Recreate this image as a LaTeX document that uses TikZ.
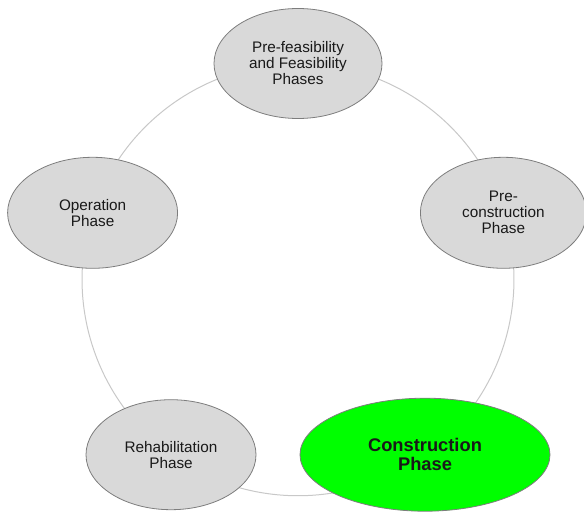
\documentclass[tikz,border=0pt]{standalone}
\usepackage{fontspec}
\setmainfont{Liberation Sans}
\usetikzlibrary{shapes.geometric,backgrounds}
\definecolor{phasefill}{RGB}{217,217,217}
\definecolor{phaseedge}{RGB}{125,125,125}
\definecolor{connline}{RGB}{200,200,200}
\definecolor{hotfill}{RGB}{0,255,0}
\begin{document}
\begin{tikzpicture}[x=1pt,y=1pt,
  phase/.style={ellipse, draw=phaseedge, line width=0.8pt, fill=phasefill,
    inner sep=0pt, align=center, text=black!90,
    font=\fontsize{15.3}{16}\selectfont},
  hotphase/.style={phase, fill=hotfill,
    font=\bfseries\fontsize{18.3}{19.5}\selectfont},
  conn/.style={draw=connline, line width=1pt}]
\useasboundingbox (0,0) rectangle (584,512);
\node[phase, minimum width=168pt, minimum height=110pt] (top) at (298,448.5)
  {Pre-feasibility\\and Feasibility\\Phases};
\node[phase, minimum width=170pt, minimum height=111pt] (op) at (92.6,299.2)
  {Operation\\Phase};
\node[phase, minimum width=166pt, minimum height=111pt] (precon) at (503.4,299.2)
  {Pre-\\construction\\Phase};
\node[phase, minimum width=170pt, minimum height=110pt] (rehab) at (171,57.3)
  {Rehabilitation\\Phase};
\node[hotphase, minimum width=250pt, minimum height=113pt] (constr) at (425,57.3)
  {Construction\\Phase};
\begin{pgfonlayer}{background}
\draw[conn] (precon.center) to[bend right=36, looseness=0.94] (top.center);
\draw[conn] (top.center) to[bend right=36, looseness=0.94] (op.center);
\draw[conn] (op.center) to[bend right=36, looseness=0.94] (rehab.center);
\draw[conn] (rehab.center) to[bend right=36, looseness=0.94] (constr.center);
\draw[conn] (constr.center) to[bend right=36, looseness=0.94] (precon.center);
\end{pgfonlayer}
\end{tikzpicture}
\end{document}
